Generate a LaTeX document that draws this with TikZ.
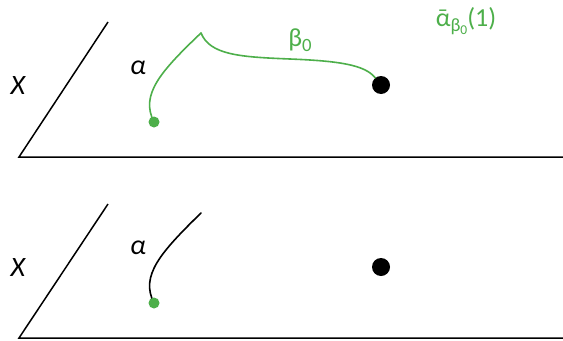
\documentclass[tikz,border=0pt]{standalone}
\usepackage{graphicx}
\usepackage{fontspec}
\setmainfont{Carlito}
\definecolor{PathGreen}{RGB}{77,175,74}
\newcommand{\lowsub}[1]{\raisebox{-0.18em}{\scalebox{0.72}{#1}}}

\begin{document}
\begin{tikzpicture}[x=1bp,y=1bp,line cap=round,line join=round]
  \path[use as bounding box] (0,0) rectangle (563,340);
  \fill[white] (0,0) rectangle (563,340);

  \tikzset{
    plane/.style={line width=1.5bp,draw=black,line join=miter,line cap=butt},
    spacelabel/.style={inner sep=0pt,text=black,font=\fontsize{28bp}{28bp}\selectfont\itshape},
    curvelabel/.style={inner sep=0pt,text=black,font=\fontsize{28bp}{28bp}\selectfont\itshape},
    greenlabel/.style={inner sep=0pt,text=PathGreen,font=\fontsize{26bp}{26bp}\selectfont},
    startdot/.style={circle,fill=PathGreen,inner sep=0pt,minimum size=11bp},
    basedot/.style={circle,fill=black,inner sep=0pt,minimum size=18bp},
    greenpath/.style={line width=1.6bp,draw=PathGreen},
    blackpath/.style={line width=1.6bp,draw=black},
  }

  % ==================== OBEN ====================
  \draw[plane] (108,318) -- (19,183) -- (563,183);
  \node[spacelabel] (spaceA) at (18,254) {X};
  \node[curvelabel] (alphaA) at (138,272) {α};

  \node[startdot] (startA) at (154,218) {};
  \node[basedot] (baseA) at (381,255) {};
  \coordinate (cuspA) at (201,307);

  % alpha und beta_0
  \draw[greenpath] (startA.center) .. controls (140,245) and (160,268) .. (cuspA);
  \draw[greenpath] (cuspA) .. controls (210,285) and (240,283) .. (290,281)
    .. controls (340,279) and (365,275) .. (baseA);
  \node[greenlabel] (betaA) at (300,300) {β\lowsub{0}};
  \node[greenlabel] (liftA) at (466,319) {ᾱ\lowsub{β\lowsub{0}}(1)};

  % ==================== UNTEN ====================
  \draw[plane] (108,136) -- (19,2) -- (563,2);
  \node[spacelabel] (spaceB) at (18,72) {X};
  \node[curvelabel] (alphaB) at (138,92) {α};

  \node[basedot] (baseB) at (381,73) {};
  \coordinate (endB) at (201,127);
  \draw[blackpath] (154,37) .. controls (140,64) and (160,87) .. (endB);
  \node[startdot] (startB) at (154,37) {};

\end{tikzpicture}
\end{document}
